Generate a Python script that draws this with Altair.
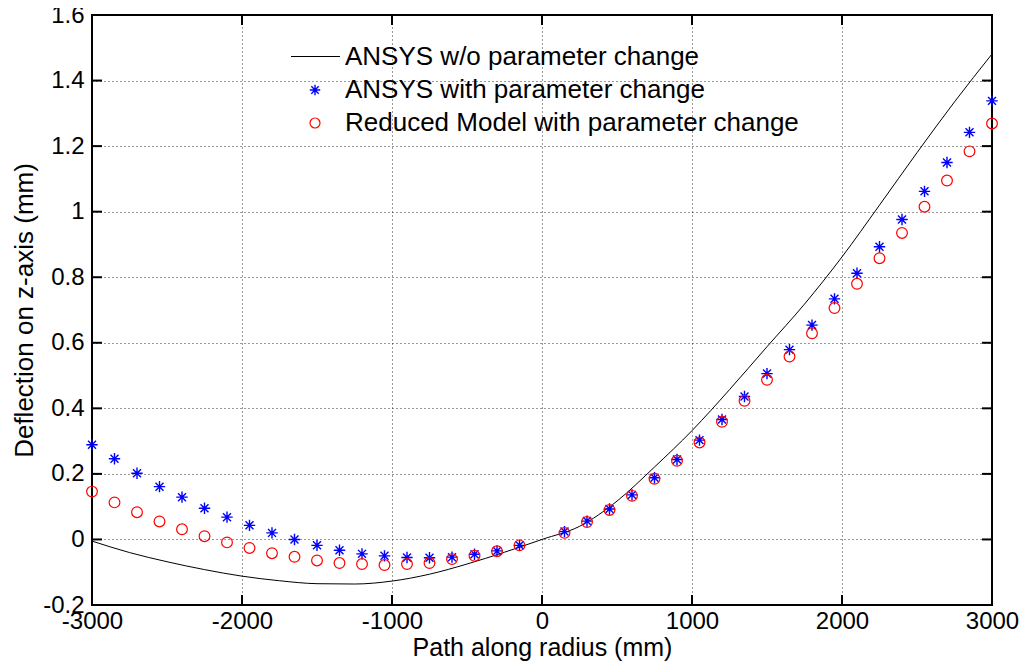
import altair as alt
import pandas as pd

# ---- data ----
x_pts = [-3000, -2850, -2700, -2550, -2400, -2250, -2100, -1950, -1800, -1650,
         -1500, -1350, -1200, -1050, -900, -750, -600, -450, -300, -150,
         150, 300, 450, 600, 750, 900, 1050, 1200, 1350, 1500,
         1650, 1800, 1950, 2100, 2250, 2400, 2550, 2700, 2850, 3000]
star_y = [0.289, 0.246, 0.202, 0.161, 0.129, 0.095, 0.068, 0.043, 0.020, 0.000,
          -0.018, -0.033, -0.044, -0.050, -0.055, -0.056, -0.054, -0.045, -0.035, -0.018,
          0.024, 0.056, 0.093, 0.136, 0.188, 0.244, 0.303, 0.366, 0.436, 0.506,
          0.579, 0.654, 0.734, 0.812, 0.893, 0.976, 1.062, 1.150, 1.242, 1.338]
circ_y = [0.146, 0.113, 0.083, 0.055, 0.031, 0.010, -0.009, -0.026, -0.042, -0.053,
          -0.064, -0.072, -0.075, -0.078, -0.075, -0.072, -0.060, -0.050, -0.036, -0.018,
          0.020, 0.053, 0.090, 0.133, 0.185, 0.240, 0.296, 0.359, 0.423, 0.487,
          0.558, 0.629, 0.706, 0.780, 0.858, 0.935, 1.015, 1.095, 1.184, 1.269]
line_x = [-3000, -2750, -2500, -2250, -2000, -1750, -1500, -1250, -1000, -750,
          -500, -250, 0, 250, 500, 750, 1000, 1250, 1500, 1750,
          2000, 2250, 2500, 2750, 3000]
line_y = [-0.005, -0.040, -0.068, -0.092, -0.112, -0.126, -0.135, -0.136, -0.127, -0.106,
          -0.075, -0.039, 0.0, 0.040, 0.117, 0.221, 0.332, 0.457, 0.588, 0.718,
          0.862, 1.020, 1.180, 1.335, 1.481]
x_ticks = [-3000, -2000, -1000, 0, 1000, 2000, 3000]
y_ticks = [-0.2, 0, 0.2, 0.4, 0.6, 0.8, 1, 1.2, 1.4, 1.6]
legend_labels = ["ANSYS w/o parameter change",
                 "ANSYS with parameter change",
                 "Reduced Model with parameter change"]
x_title = "Path along radius (mm)"
y_title = "Deflection on z-axis (mm)"

W, H = 900, 590
FONT = "Liberation Sans"
FS = 24      # tick labels
FT = 26      # titles and legend
ASTER = "M-1,0L1,0M0,-1L0,1M-0.7,-0.7L0.7,0.7M-0.7,0.7L0.7,-0.7"

xs = alt.Scale(domain=[-3000, 3000], nice=False, zero=False)
ys = alt.Scale(domain=[-0.2, 1.6], nice=False, zero=False)

pts = pd.DataFrame({"x": x_pts, "star": star_y, "circ": circ_y})
ln = pd.DataFrame({"x": line_x, "y": line_y})

x_axis = alt.Axis(values=x_ticks, labelExpr="'' + datum.value", title=x_title,
                  labelFlush=False, labelPadding=4, titlePadding=2, titleFontSize=25)
y_axis = alt.Axis(values=y_ticks, labelExpr="'' + datum.value", title=y_title,
                  labelPadding=8, titlePadding=5)

line = alt.Chart(ln).mark_line(color="black", strokeWidth=1, interpolate="monotone").encode(
    x=alt.X("x:Q", scale=xs, axis=x_axis),
    y=alt.Y("y:Q", scale=ys, axis=y_axis),
)
stars = alt.Chart(pts).mark_point(shape=ASTER, color="blue", filled=False, size=130,
                                  strokeWidth=1.4, opacity=1).encode(
    x=alt.X("x:Q", scale=xs), y=alt.Y("star:Q", scale=ys))
circs = alt.Chart(pts).mark_point(shape="circle", color="red", filled=False, size=115,
                                  strokeWidth=1.2, opacity=1).encode(
    x=alt.X("x:Q", scale=xs), y=alt.Y("circ:Q", scale=ys))

# inside tick marks on all four sides
tx = pd.DataFrame({"v": x_ticks})
ty = pd.DataFrame({"v": y_ticks})
TL = 10
TC = "black"
tick_bot = alt.Chart(tx).mark_rule(color=TC, strokeWidth=2).encode(
    x=alt.X("v:Q", scale=xs), y=alt.value(H), y2=alt.value(H - TL))
tick_top = alt.Chart(tx).mark_rule(color=TC, strokeWidth=2).encode(
    x=alt.X("v:Q", scale=xs), y=alt.value(0), y2=alt.value(TL))
tick_left = alt.Chart(ty).mark_rule(color=TC, strokeWidth=2).encode(
    y=alt.Y("v:Q", scale=ys), x=alt.value(0), x2=alt.value(TL))
tick_right = alt.Chart(ty).mark_rule(color=TC, strokeWidth=2).encode(
    y=alt.Y("v:Q", scale=ys), x=alt.value(W - TL), x2=alt.value(W))

# legend (drawn manually, MATLAB style, no box)
rows_y = [41.5, 75, 108]
text_x = 253
leg = []
for lab, yy in zip(legend_labels, rows_y):
    leg.append(alt.Chart(pd.DataFrame({"t": [lab]})).mark_text(
        align="left", baseline="middle", font=FONT, fontSize=FT, color="black").encode(
        x=alt.value(text_x), y=alt.value(yy), text="t:N"))
leg.append(alt.Chart(pd.DataFrame({"t": [0]})).mark_rule(color="black", strokeWidth=1).encode(
    x=alt.value(199), x2=alt.value(248), y=alt.value(rows_y[0])))
leg.append(alt.Chart(pd.DataFrame({"t": [0]})).mark_point(
    shape=ASTER, color="blue", filled=False, size=110, strokeWidth=1.4, opacity=1).encode(
    x=alt.value(223), y=alt.value(rows_y[1])))
leg.append(alt.Chart(pd.DataFrame({"t": [0]})).mark_point(
    shape="circle", color="red", filled=False, size=100, strokeWidth=1.2, opacity=1).encode(
    x=alt.value(223), y=alt.value(rows_y[2])))

chart = alt.layer(line, stars, circs, tick_bot, tick_top, tick_left, tick_right, *leg).properties(
    width=W, height=H,
    autosize=alt.AutoSizeParams(type="none"),
    padding={"left": 84, "top": 7, "right": 27, "bottom": 56},
    background="white",
).configure_view(
    stroke="black", strokeWidth=2
).configure_axis(
    domain=False, ticks=False, grid=True,
    gridColor="black", gridDash=[1, 3], gridOpacity=0.8, gridWidth=1,
    labelFont=FONT, labelFontSize=FS, labelColor="black",
    titleFont=FONT, titleFontSize=FT, titleColor="black", titleFontWeight="normal",
)

chart.save("out.html", embed_options={"renderer": "svg", "actions": False})
